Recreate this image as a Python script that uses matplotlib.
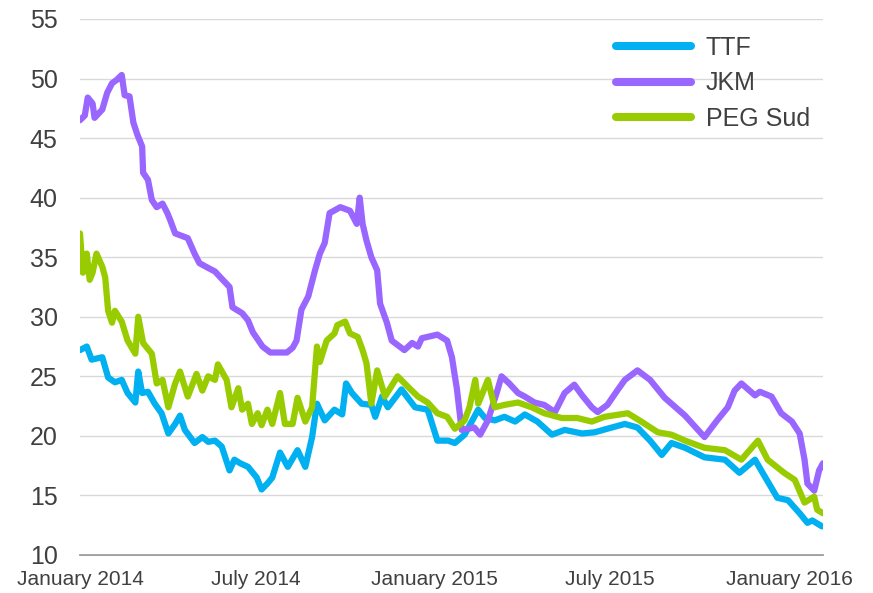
import pandas as pd
import matplotlib
matplotlib.use('Agg')
import matplotlib.pyplot as plt
import matplotlib.dates as mdates

plt.rcParams['font.family'] = ['Liberation Sans', 'DejaVu Sans']

# ========== data ==========
ttf_dates = ['2014-01-01', '2014-01-08', '2014-01-13', '2014-01-24', '2014-01-30', '2014-02-06',
             '2014-02-13', '2014-02-19', '2014-02-27', '2014-03-02', '2014-03-06', '2014-03-12',
             '2014-03-19', '2014-03-26', '2014-04-02', '2014-04-09', '2014-04-14', '2014-04-19',
             '2014-04-29', '2014-05-07', '2014-05-13', '2014-05-20', '2014-05-27', '2014-06-04',
             '2014-06-09', '2014-06-15', '2014-06-23', '2014-07-02', '2014-07-07', '2014-07-13',
             '2014-07-18', '2014-07-26', '2014-08-03', '2014-08-13', '2014-08-21', '2014-08-28',
             '2014-09-02', '2014-09-10', '2014-09-20', '2014-09-28', '2014-10-02', '2014-10-08',
             '2014-10-18', '2014-10-28', '2014-11-01', '2014-11-08', '2014-11-14', '2014-11-28',
             '2014-12-12', '2014-12-25', '2015-01-04', '2015-01-15', '2015-01-22', '2015-02-01',
             '2015-02-09', '2015-02-15', '2015-02-22', '2015-03-04', '2015-03-14', '2015-03-25',
             '2015-04-04', '2015-04-17', '2015-05-02', '2015-05-15', '2015-06-02', '2015-06-15',
             '2015-06-28', '2015-07-16', '2015-07-29', '2015-08-11', '2015-08-23', '2015-09-02',
             '2015-09-16', '2015-10-06', '2015-10-27', '2015-11-11', '2015-11-27', '2015-12-07',
             '2015-12-20', '2015-12-31', '2016-01-12', '2016-01-20', '2016-01-25', '2016-02-04']
ttf_values = [27.2, 27.5, 26.4, 26.6, 24.9, 24.5,
              24.7, 23.6, 22.8, 25.4, 23.6, 23.7,
              22.7, 21.9, 20.2, 21.0, 21.7, 20.5,
              19.4, 19.9, 19.5, 19.6, 19.1, 17.1,
              18.0, 17.7, 17.4, 16.5, 15.5, 16.0,
              16.5, 18.6, 17.4, 18.8, 17.4, 19.9,
              22.7, 21.3, 22.2, 21.8, 24.4, 23.6,
              22.7, 22.6, 21.6, 23.3, 22.4, 23.9,
              22.4, 22.2, 19.6, 19.6, 19.4, 20.1,
              21.3, 22.2, 21.5, 21.3, 21.6, 21.2,
              21.8, 21.2, 20.1, 20.5, 20.2, 20.3,
              20.6, 21.0, 20.7, 19.6, 18.4, 19.4,
              19.0, 18.2, 18.0, 16.9, 18.0, 16.6,
              14.8, 14.6, 13.5, 12.7, 12.9, 12.4]

jkm_dates = ['2014-01-01', '2014-01-06', '2014-01-09', '2014-01-14', '2014-01-16', '2014-01-24',
             '2014-01-29', '2014-02-03', '2014-02-08', '2014-02-13', '2014-02-16', '2014-02-21',
             '2014-02-25', '2014-03-01', '2014-03-06', '2014-03-07', '2014-03-12', '2014-03-16',
             '2014-03-21', '2014-03-27', '2014-04-01', '2014-04-04', '2014-04-09', '2014-04-22',
             '2014-04-29', '2014-05-04', '2014-05-13', '2014-05-20', '2014-05-28', '2014-06-04',
             '2014-06-07', '2014-06-17', '2014-06-23', '2014-06-28', '2014-07-08', '2014-07-16',
             '2014-07-21', '2014-08-02', '2014-08-08', '2014-08-12', '2014-08-17', '2014-08-24',
             '2014-08-31', '2014-09-05', '2014-09-10', '2014-09-15', '2014-09-26', '2014-10-06',
             '2014-10-13', '2014-10-16', '2014-10-19', '2014-10-23', '2014-10-28', '2014-11-03',
             '2014-11-06', '2014-11-13', '2014-11-18', '2014-12-01', '2014-12-09', '2014-12-15',
             '2014-12-19', '2015-01-04', '2015-01-14', '2015-01-19', '2015-01-22', '2015-01-24',
             '2015-01-29', '2015-02-11', '2015-02-17', '2015-02-25', '2015-03-06', '2015-03-11',
             '2015-03-19', '2015-03-28', '2015-04-04', '2015-04-14', '2015-04-24', '2015-05-05',
             '2015-05-15', '2015-05-25', '2015-06-02', '2015-06-12', '2015-06-18', '2015-06-28',
             '2015-07-09', '2015-07-16', '2015-07-29', '2015-08-11', '2015-08-26', '2015-09-16',
             '2015-10-06', '2015-10-19', '2015-10-30', '2015-11-06', '2015-11-13', '2015-11-27',
             '2015-12-02', '2015-12-14', '2015-12-24', '2016-01-04', '2016-01-12', '2016-01-17',
             '2016-01-20', '2016-01-27', '2016-02-01', '2016-02-05']
jkm_values = [46.5, 46.9, 48.4, 47.9, 46.7, 47.4,
              48.8, 49.6, 49.9, 50.3, 48.6, 48.5,
              46.3, 45.3, 44.3, 42.1, 41.5, 39.8,
              39.2, 39.5, 38.7, 38.1, 37.0, 36.6,
              35.3, 34.5, 34.1, 33.8, 33.1, 32.5,
              30.8, 30.3, 29.7, 28.7, 27.5, 27.0,
              27.0, 27.0, 27.4, 28.0, 30.6, 31.7,
              33.9, 35.3, 36.2, 38.7, 39.2, 38.9,
              37.8, 40.0, 37.8, 36.4, 35.0, 33.9,
              31.1, 29.5, 28.0, 27.2, 27.8, 27.5,
              28.2, 28.5, 28.0, 26.6, 25.0, 24.0,
              20.5, 20.7, 20.1, 21.3, 23.6, 25.0,
              24.4, 23.6, 23.3, 22.8, 22.6, 22.0,
              23.6, 24.3, 23.4, 22.4, 22.0, 22.6,
              23.9, 24.7, 25.5, 24.7, 23.2, 21.7,
              19.9, 21.3, 22.4, 23.8, 24.4, 23.4,
              23.7, 23.3, 21.9, 21.2, 20.2, 18.0,
              16.0, 15.4, 17.1, 17.7]

peg_dates = ['2014-01-01', '2014-01-04', '2014-01-08', '2014-01-11', '2014-01-14', '2014-01-18',
             '2014-01-24', '2014-01-27', '2014-01-30', '2014-02-03', '2014-02-06', '2014-02-13',
             '2014-02-19', '2014-02-27', '2014-03-02', '2014-03-07', '2014-03-16', '2014-03-21',
             '2014-03-27', '2014-04-02', '2014-04-09', '2014-04-14', '2014-04-22', '2014-05-01',
             '2014-05-07', '2014-05-13', '2014-05-20', '2014-05-23', '2014-06-01', '2014-06-06',
             '2014-06-13', '2014-06-17', '2014-06-23', '2014-06-27', '2014-07-03', '2014-07-07',
             '2014-07-13', '2014-07-18', '2014-07-26', '2014-07-31', '2014-08-08', '2014-08-13',
             '2014-08-21', '2014-08-28', '2014-09-02', '2014-09-05', '2014-09-12', '2014-09-20',
             '2014-09-23', '2014-10-01', '2014-10-06', '2014-10-14', '2014-10-19', '2014-10-23',
             '2014-10-28', '2014-11-03', '2014-11-11', '2014-11-24', '2014-12-05', '2014-12-15',
             '2014-12-25', '2015-01-04', '2015-01-14', '2015-01-22', '2015-02-01', '2015-02-06',
             '2015-02-12', '2015-02-15', '2015-02-25', '2015-03-04', '2015-03-14', '2015-03-28',
             '2015-04-11', '2015-04-24', '2015-05-12', '2015-05-28', '2015-06-12', '2015-06-25',
             '2015-07-19', '2015-08-02', '2015-08-19', '2015-09-02', '2015-09-16', '2015-10-06',
             '2015-10-27', '2015-11-13', '2015-11-30', '2015-12-10', '2015-12-27', '2016-01-07',
             '2016-01-17', '2016-01-27', '2016-01-30', '2016-02-05']
peg_values = [37.0, 33.7, 35.3, 33.1, 33.7, 35.3,
              34.2, 33.3, 30.5, 29.5, 30.5, 29.6,
              28.0, 26.9, 30.0, 27.8, 26.9, 24.4,
              24.7, 22.4, 24.4, 25.4, 23.3, 25.2,
              23.8, 25.0, 24.7, 26.0, 24.7, 22.4,
              24.0, 22.2, 22.7, 21.0, 21.9, 20.9,
              22.2, 21.0, 23.6, 21.0, 21.0, 23.2,
              21.2, 22.4, 27.5, 26.2, 28.0, 28.6,
              29.3, 29.6, 28.6, 28.3, 27.2, 26.1,
              22.7, 25.5, 23.3, 25.0, 24.1, 23.3,
              22.8, 21.9, 21.6, 20.6, 21.3, 22.4,
              24.7, 22.7, 24.7, 22.4, 22.6, 22.8,
              22.4, 21.9, 21.5, 21.5, 21.2, 21.6,
              21.9, 21.2, 20.3, 20.1, 19.6, 19.0,
              18.8, 18.0, 19.6, 18.0, 16.9, 16.3,
              14.4, 14.9, 13.8, 13.5]

series_names = ['TTF', 'JKM', 'PEG Sud']
series_colors = ['#00B0F0', '#9966FF', '#99CC00']

# ========== plot ==========
fig = plt.figure(figsize=(8.73, 5.93), dpi=100)
ax = fig.add_axes([0.0916, 0.0641, 0.8511, 0.9039])

for name, color, d, v in zip(series_names, series_colors,
                             [ttf_dates, jkm_dates, peg_dates],
                             [ttf_values, jkm_values, peg_values]):
    ax.plot(pd.to_datetime(d), v, color=color, linewidth=4.5, label=name,
            solid_joinstyle='round', solid_capstyle='round')

ax.set_ylim(10, 55)
ax.set_yticks(range(10, 56, 5))
ax.set_xlim(pd.Timestamp('2014-01-01'), pd.Timestamp('2016-02-05'))
ax.xaxis.set_major_locator(mdates.MonthLocator(bymonth=[1, 7]))
ax.xaxis.set_major_formatter(mdates.DateFormatter('%B %Y'))

ax.grid(axis='y', color='#D9D9D9', linewidth=1.0)
ax.set_axisbelow(True)
for s in ['top', 'right', 'left']:
    ax.spines[s].set_visible(False)
ax.spines['bottom'].set_color('#8C8C8C')
ax.spines['bottom'].set_linewidth(1.2)
ax.spines['bottom'].set_zorder(0.5)

ax.tick_params(axis='y', length=0, pad=16, labelsize=18, labelcolor='#404040')
ax.tick_params(axis='x', length=0, pad=11, labelsize=15, labelcolor='#404040')

leg = ax.legend(loc='upper left', bbox_to_anchor=(616 / 873, 1 - 36 / 593),
                bbox_transform=fig.transFigure, frameon=False, fontsize=18,
                handlelength=3.0, handletextpad=0.6, labelspacing=0.45,
                borderpad=0, borderaxespad=0)
for line in leg.get_lines():
    line.set_linewidth(5.8)
for t in leg.get_texts():
    t.set_color('#404040')

fig.savefig('out.png', dpi=100)
